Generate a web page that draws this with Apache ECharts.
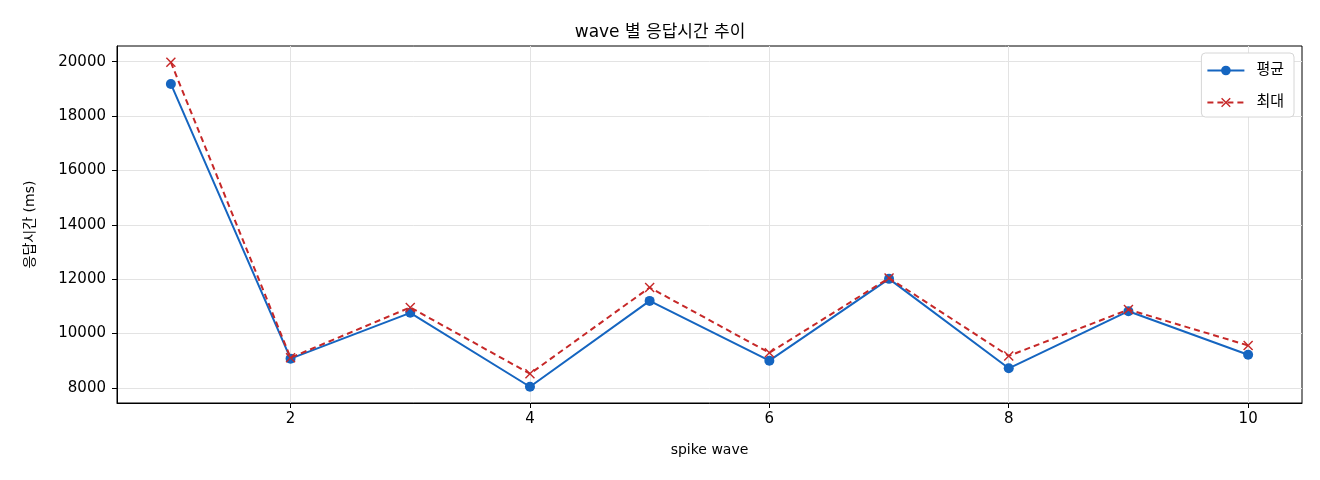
<!DOCTYPE html>
<html lang="ko">
<head>
	<meta charset="UTF-8">
	<title>wave 별 응답시간 추이</title>
	<script type="text/javascript" src="https://cdn.jsdelivr.net/npm/echarts@6/dist/echarts.min.js"></script>
	<style>
		html, body { margin: 0; padding: 0; background: #fff; }
	</style>
</head>
<body>
    <div id="main" style="width:1320px;height:480px"></div>
    <script type="text/javascript">
        // 데이터
        var waves = [1, 2, 3, 4, 5, 6, 7, 8, 9, 10];
        var avgMs = [19180, 9075, 10760, 8040, 11200, 9000, 12010, 8720, 10820, 9220];
        var maxMs = [19980, 9110, 10960, 8520, 11690, 9290, 12040, 9175, 10880, 9560];
        var xTicks = [2, 4, 6, 8, 10];
        var yTicks = [8000, 10000, 12000, 14000, 16000, 18000, 20000];

        var FONT = "'DejaVu Sans', 'Noto Sans CJK KR', sans-serif";
        var crossPath = 'path://M0,1L1,0L5,4L9,0L10,1L6,5L10,9L9,10L5,6L1,10L0,9L4,5Z';

        function pairs(xs, ys) {
            var out = [];
            for (var i = 0; i < xs.length; i++) out.push([xs[i], ys[i]]);
            return out;
        }

        var myChart = echarts.init(document.getElementById('main'));
        var option = {
            backgroundColor: '#fff',
            animation: false,
            textStyle: { fontFamily: FONT },
            title: {
                text: 'wave 별 응답시간 추이',
                left: 'center',
                top: 19,
                textStyle: { fontFamily: FONT, fontSize: 17, fontWeight: 'normal', color: '#000' }
            },
            legend: {
                right: 26,
                top: 53,
                orient: 'vertical',
                itemWidth: 37,
                itemHeight: 12,
                itemGap: 17,
                padding: [10, 10, 7, 5],
                borderColor: '#d6d6d6',
                borderWidth: 1,
                borderRadius: 4,
                backgroundColor: '#fff',
                textStyle: { fontFamily: FONT, fontSize: 15, color: '#000', padding: [0, 0, 0, 7] },
                data: ['평균', '최대']
            },
            grid: {
                left: 117, right: 18, top: 46, bottom: 77,
                show: true, borderColor: '#000', borderWidth: 1
            },
            xAxis: {
                type: 'value',
                min: 0.55, max: 10.45,
                name: 'spike wave',
                nameLocation: 'middle',
                nameGap: 40,
                nameTextStyle: { fontFamily: FONT, fontSize: 14, color: '#000' },
                axisLine: { show: true, onZero: false, lineStyle: { color: '#000', width: 1 } },
                axisTick: { show: true, length: 5, customValues: xTicks, lineStyle: { color: '#000' } },
                axisLabel: { customValues: xTicks, fontSize: 15, color: '#000', margin: 9 },
                splitLine: { show: true, lineStyle: { color: '#e3e3e3', width: 1 } }
            },
            yAxis: {
                type: 'value',
                min: 7443, max: 20577,
                name: '응답시간 (ms)',
                nameLocation: 'middle',
                nameGap: 80,
                nameRotate: 90,
                nameTextStyle: { fontFamily: FONT, fontSize: 14, color: '#000' },
                axisLine: { show: true, onZero: false, lineStyle: { color: '#000', width: 1 } },
                axisTick: { show: true, length: 5, customValues: yTicks, lineStyle: { color: '#000' } },
                axisLabel: {
                    customValues: yTicks, fontSize: 15, color: '#000', margin: 11,
                    formatter: function (v) { return String(v); }
                },
                splitLine: { show: true, lineStyle: { color: '#e3e3e3', width: 1 } }
            },
            series: [
                {
                    name: '평균',
                    type: 'line',
                    data: pairs(waves, avgMs),
                    symbol: 'circle',
                    symbolSize: 10,
                    itemStyle: { color: '#1565c0' },
                    lineStyle: { color: '#1565c0', width: 2 },
                    z: 2
                },
                {
                    name: '최대',
                    type: 'line',
                    data: pairs(waves, maxMs),
                    symbol: crossPath,
                    symbolSize: 10,
                    itemStyle: { color: '#c62828' },
                    lineStyle: { color: '#c62828', width: 2, type: [6, 4] },
                    z: 3
                }
            ]
        };
        myChart.setOption(option);
    </script>
</body>
</html>
